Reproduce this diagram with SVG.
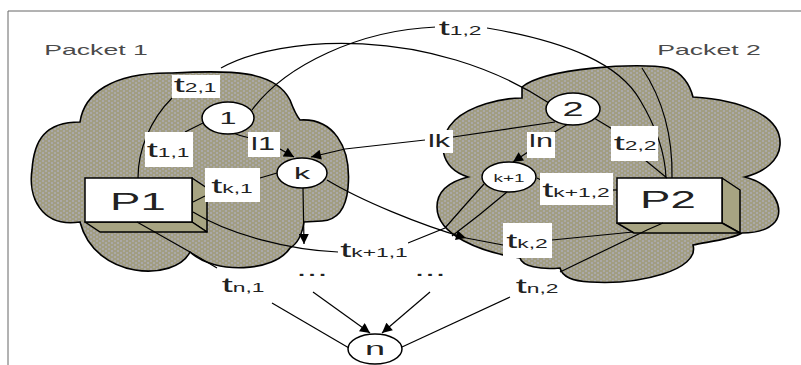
<svg xmlns="http://www.w3.org/2000/svg" width="801" height="365" viewBox="0 0 801 365">
<defs>
  <pattern id="dots" width="6" height="4" patternUnits="userSpaceOnUse">
    <rect width="6" height="4" fill="#a19d82"/>
    <circle cx="1" cy="1" r="0.8" fill="#b9b8dc"/>
    <circle cx="4" cy="3" r="0.8" fill="#b9b8dc"/>
  </pattern>
  <marker id="arr" viewBox="0 0 10 10" refX="10" refY="5" markerWidth="11" markerHeight="10" markerUnits="userSpaceOnUse" orient="auto">
    <path d="M0,0 L10,5 L0,10 z" fill="#000"/>
  </marker>
  <style>
    .cloud{fill:url(#dots);stroke:#000;stroke-width:1.6}
    .front{fill:#fff;stroke:#000;stroke-width:1.5}
    .side{fill:#a7a482;stroke:#000;stroke-width:1.5;stroke-linejoin:round}
    .place{fill:#fff;stroke:#000;stroke-width:1.5}
    .lbl{fill:#fff}
    .ln{fill:none;stroke:#000;stroke-width:1.2}
    .frame{fill:none;stroke:#666;stroke-width:1}
    text{font-family:"Liberation Sans",Arial,sans-serif;fill:#222;text-anchor:middle}
    .t{font-size:21px}
    .sub{font-size:12px}
    .pk{font-size:14px;fill:#4a4a4a}
    .box{font-size:24px}
    .l{font-size:18px}
  </style>
</defs>

<path class="frame" d="M8,365 L8,11 L801,11"/>

<g id="cloud1">
  <path class="cloud" d="M80,222 C40,228 28,195 32,170 C34,140 45,122 80,122 C84,95 110,72 172,73 C230,70 275,70 290,100 C293,108 296,115 300,120 C332,118 352,145 348,188 C346,208 338,220 322,221 L304,222 C302,235 297,244 290,248 C275,272 215,275 190,252 C175,282 95,280 80,222 Z"/>
</g>
<g id="cloud2">
  <path class="cloud" d="M468,177 C440,168 435,140 455,120 C470,106 500,98 522,98 L522,87 C545,68 640,62 668,68 C682,72 690,85 693,97 C740,100 782,115 780,145 C779,160 765,172 745,177 C775,185 785,210 775,222 C768,230 755,233 742,233 C730,240 705,242 693,245 C700,270 640,285 590,282 C570,281 562,276 560,268 C540,270 522,266 520,258 C480,252 437,235 437,207 C437,192 448,182 468,177 Z"/>
</g>

<g id="P1">
  <polygon class="side" points="192,178 207,188 207,232 192,222"/>
  <polygon class="side" points="85,222 100,232 207,232 192,222"/>
  <rect class="front" x="85" y="178" width="107" height="44"/>
  <text class="box" transform="translate(138,210) scale(1.9,1)">P1</text>
</g>
<g id="P2">
  <polygon class="side" points="722,178 740,190 740,233 722,223"/>
  <polygon class="side" points="617,223 634,233 740,233 722,223"/>
  <rect class="front" x="617" y="178" width="105" height="45"/>
  <text class="box" transform="translate(668,208) scale(1.9,1)">P2</text>
</g>

<g id="connectors">
  <path class="ln" d="M252,110 C285,65 360,30 436,27"/>
  <path class="ln" d="M487,28 C570,42 620,65 640,100 C655,125 665,150 666,178"/>
  <path class="ln" d="M642,68 C660,95 673,130 672,178"/>
  <path class="ln" d="M221,68 C280,35 430,25 549,103"/>
  <path class="ln" d="M172,98 C150,120 138,150 138,178"/>
  <path class="ln" d="M205,122 L185,132"/>
  <path class="ln" d="M233,133 C240,136 245,137 250,138"/>
  <path class="ln" d="M280,149 L294,157" marker-end="url(#arr)"/>
  <path class="ln" d="M555,122 L453,137"/>
  <path class="ln" d="M425,140 L345,149 L311,157" marker-end="url(#arr)"/>
  <path class="ln" d="M568,124 L553,133"/>
  <path class="ln" d="M528,152 L513,162" marker-end="url(#arr)"/>
  <path class="ln" d="M594,118 L614,130"/>
  <path class="ln" d="M645,160 L667,178"/>
  <path class="ln" d="M277,173 L260,178"/>
  <path class="ln" d="M205,196 L193,202"/>
  <path class="ln" d="M303,188 L304,244" marker-end="url(#arr)"/>
  <path class="ln" d="M327,180 C360,200 420,225 466,238" marker-end="url(#arr)"/>
  <path class="ln" d="M633,232 L552,240"/>
  <path class="ln" d="M503,245 L466,238"/>
  <path class="ln" d="M484,184 Q465,205 445,228 L408,243"/>
  <path class="ln" d="M507,192 Q480,215 452,236"/>
  <path class="ln" d="M537,178 L541,180"/>
  <path class="ln" d="M612,190 L617,190"/>
  <path class="ln" d="M338,252 C290,250 230,235 193,212"/>
  <path class="ln" d="M137,222 L190,252 L217,268"/>
  <path class="ln" d="M272,303 L349,348"/>
  <path class="ln" d="M313,292 L370,333" marker-end="url(#arr)"/>
  <path class="ln" d="M430,292 L382,333" marker-end="url(#arr)"/>
  <path class="ln" d="M510,297 L402,347"/>
  <path class="ln" d="M663,223 L647,230 L560,272"/>
</g>

<g id="place-1">
  <ellipse class="place" cx="228" cy="118" rx="26" ry="16"/>
  <text style="font-size:16px" transform="translate(228,124) scale(1.9,1)">1</text>
</g>
<g id="place-2">
  <ellipse class="place" cx="573" cy="109" rx="27" ry="16"/>
  <text style="font-size:20px" transform="translate(573,116) scale(1.9,1)">2</text>
</g>
<g id="place-k">
  <ellipse class="place" cx="302" cy="173" rx="25" ry="15"/>
  <text style="font-size:17px" transform="translate(302,179) scale(1.9,1)">k</text>
</g>
<g id="place-k1">
  <ellipse class="place" cx="509" cy="177" rx="27" ry="15"/>
  <text style="font-size:10px" transform="translate(509,182) scale(1.9,1)">k+1</text>
</g>
<g id="place-n">
  <ellipse class="place" cx="375" cy="349" rx="27" ry="15"/>
  <text style="font-size:19px" transform="translate(375,355) scale(1.9,1)">n</text>
</g>

<g id="label-packet1"><text class="pk" transform="translate(96,55) scale(1.9,1)">Packet 1</text></g>
<g id="label-packet2"><text class="pk" transform="translate(709,55) scale(1.9,1)">Packet 2</text></g>

<g id="t21"><rect class="lbl" x="172" y="75" width="48" height="23"/><text class="t" transform="translate(195,92) scale(1.9,1)">t<tspan class="sub">2,1</tspan></text></g>
<g id="t11"><rect class="lbl" x="145" y="132" width="48" height="35"/><text class="t" transform="translate(168,157) scale(1.9,1)">t<tspan class="sub">1,1</tspan></text></g>
<g id="l1"><rect class="lbl" x="248" y="132" width="32" height="25"/><text class="l" transform="translate(263,150) scale(1.7,1)">l1</text></g>
<g id="tk1"><rect class="lbl" x="205" y="168" width="55" height="34"/><text class="t" transform="translate(232,193) scale(1.9,1)">t<tspan class="sub">k,1</tspan></text></g>
<g id="t12"><rect class="lbl" x="435" y="14" width="52" height="26"/><text class="t" transform="translate(460,35) scale(1.9,1)">t<tspan class="sub">1,2</tspan></text></g>
<g id="lk"><rect class="lbl" x="425" y="130" width="28" height="23"/><text class="l" transform="translate(439,147) scale(1.7,1)">lk</text></g>
<g id="ln"><rect class="lbl" x="527" y="132" width="28" height="26"/><text class="l" transform="translate(541,147) scale(1.7,1)">ln</text></g>
<g id="t22"><rect class="lbl" x="611" y="126" width="47" height="35"/><text class="t" transform="translate(635,150) scale(1.9,1)">t<tspan class="sub">2,2</tspan></text></g>
<g id="tk12"><rect class="lbl" x="540" y="173" width="73" height="32"/><text class="t" transform="translate(576,197) scale(1.9,1)">t<tspan class="sub">k+1,2</tspan></text></g>
<g id="tk2"><rect class="lbl" x="503" y="223" width="49" height="35"/><text class="t" transform="translate(527,248) scale(1.9,1)">t<tspan class="sub">k,2</tspan></text></g>
<g id="tk11"><rect class="lbl" x="338" y="237" width="70" height="22"/><text class="t" transform="translate(374,257) scale(1.9,1)">t<tspan class="sub">k+1,1</tspan></text></g>
<g id="tn1"><rect class="lbl" x="217" y="273" width="50" height="23"/><text class="t" transform="translate(243,292) scale(1.9,1)">t<tspan class="sub">n,1</tspan></text></g>
<g id="tn2"><rect class="lbl" x="515" y="274" width="44" height="23"/><text class="t" transform="translate(537,293) scale(1.9,1)">t<tspan class="sub">n,2</tspan></text></g>
<g id="dots1"><text class="t" style="font-size:20px" transform="translate(312,276) scale(1.9,1)">...</text></g>
<g id="dots2"><text class="t" style="font-size:20px" transform="translate(430,276) scale(1.9,1)">...</text></g>
</svg>
